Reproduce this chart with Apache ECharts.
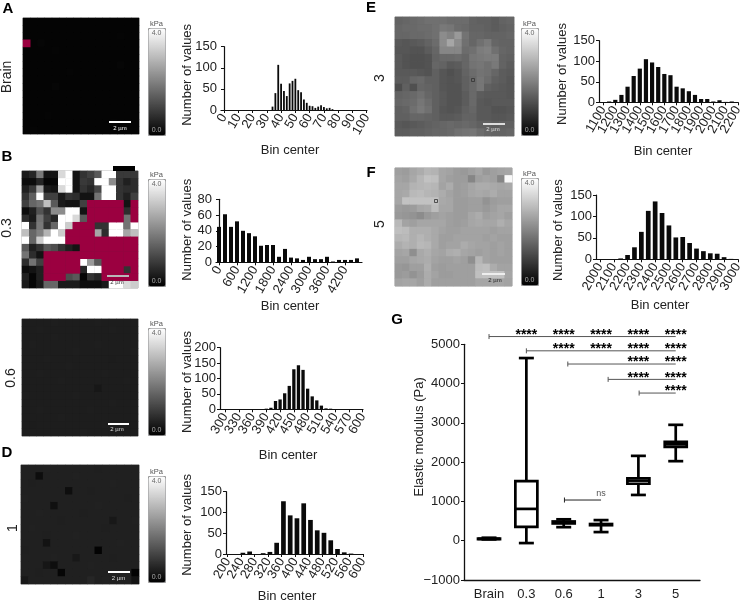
<!DOCTYPE html>
<html>
<head>
<meta charset="utf-8">
<style>html,body{margin:0;padding:0;background:#fff}#c{width:746px;height:604px}</style>
<script src="https://cdn.jsdelivr.net/npm/echarts@6/dist/echarts.min.js"></script>
</head>
<body>
<div id="c"></div>
<script>
// ---------- data: stiffness maps (kPa, 16x16); X marks a masked (crimson) cell ----------
const X = -1;
const cellIndex = [0,1,2,3,4,5,6,7,8,9,10,11,12,13,14,15];
const mapBrain = [
[.07,.07,.07,.07,.07,.06,.07,.07,.07,.07,.07,.07,.07,.07,.07,.07],
[.07,.06,.07,.07,.07,.07,.07,.07,.07,.06,.07,.07,.07,.07,.07,.07],
[.07,.07,.07,.06,.07,.07,.07,.07,.07,.07,.07,.07,.07,.08,.07,.07],
[X,.07,.09,.07,.07,.07,.07,.07,.07,.07,.07,.07,.07,.07,.07,.07],
[.07,.07,.07,.07,.08,.07,.07,.07,.07,.07,.07,.07,.07,.07,.07,.06],
[.07,.07,.07,.07,.07,.07,.07,.06,.07,.07,.07,.07,.07,.07,.07,.07],
[.06,.07,.07,.07,.07,.07,.07,.07,.07,.07,.07,.07,.07,.09,.07,.07],
[.07,.07,.07,.07,.07,.07,.08,.07,.07,.07,.07,.07,.07,.07,.07,.07],
[.07,.07,.07,.07,.07,.07,.07,.07,.07,.07,.07,.07,.07,.07,.06,.07],
[.07,.07,.07,.07,.09,.07,.07,.07,.07,.07,.07,.07,.07,.07,.07,.07],
[.07,.06,.07,.07,.07,.07,.07,.07,.07,.07,.07,.07,.07,.07,.07,.07],
[.07,.07,.07,.07,.07,.07,.07,.07,.07,.07,.06,.07,.07,.07,.07,.07],
[.07,.07,.07,.07,.07,.07,.07,.07,.07,.07,.07,.07,.07,.07,.07,.07],
[.07,.07,.07,.08,.07,.07,.07,.07,.07,.07,.07,.07,.07,.07,.07,.06],
[.07,.07,.07,.07,.07,.07,.07,.07,.07,.07,.07,.07,.09,.07,.07,.07],
[.07,.08,.07,.07,.07,.07,.07,.07,.07,.07,.07,.07,.07,.07,.07,.07]];
const map03 = [
[.4,.6,1.9,.3,.3,3.4,4,.3,.8,1,1.4,4,4,.9,.9,.9],
[.2,.2,.6,.1,.1,4,4,.3,.9,.8,4,4,2.2,.8,.5,.7],
[.5,.9,2.5,.4,.3,3.4,4,.3,.8,.6,1.1,4,4,.8,.7,.7],
[.8,1.5,4,1,1,.4,.8,.7,.3,.3,1.8,4,4,.8,.5,1],
[1,1.6,1.8,3,1.4,.4,.3,.3,1,X,X,X,X,X,.3,X],
[.2,.5,1.3,.8,2.2,2.2,4,4,.3,X,X,X,X,X,.7,X],
[.7,.4,1.8,1,.6,4,4,3.4,1.4,X,X,X,X,X,1.8,X],
[4,.8,1.9,.8,1.6,4,3.2,X,X,X,.8,.8,4,4,1.8,4],
[3,1.6,2,2.8,4,3.2,X,X,X,X,2.6,.7,4,4,2.6,3],
[4,1.6,3.2,4,4,4,X,X,X,X,X,X,X,X,X,X],
[1.4,.5,.8,1.4,1.2,.8,.5,.3,X,X,X,X,X,X,X,X],
[1.8,.7,.3,X,X,X,X,X,X,X,X,X,X,X,X,X],
[.7,1.8,1,X,X,X,X,X,4,2.4,1.4,X,X,X,X,X],
[.2,.3,.5,X,X,X,X,X,.6,4,4,X,X,X,.8,X],
[.5,.1,.5,X,X,X,1.2,1.4,.1,.8,.6,X,X,X,X,X],
[.4,.1,.4,1.6,1.6,.4,.4,.4,.2,.2,.2,.4,4,4,3.4,3.2]];
const map06 = [
[.45,.46,.45,.46,.47,.46,.45,.46,.45,.46,.47,.46,.45,.46,.45,.46],
[.46,.45,.47,.46,.45,.46,.46,.45,.46,.45,.46,.46,.47,.45,.46,.45],
[.45,.46,.46,.45,.47,.45,.46,.46,.45,.46,.46,.45,.46,.46,.45,.46],
[.46,.47,.45,.46,.46,.46,.45,.46,.46,.45,.47,.46,.45,.46,.46,.45],
[.45,.46,.46,.45,.46,.45,.46,.47,.45,.46,.45,.46,.46,.45,.46,.47],
[.46,.45,.46,.47,.45,.46,.46,.45,.46,.46,.46,.45,.44,.46,.45,.46],
[.45,.46,.45,.46,.46,.45,.47,.46,.45,.46,.45,.46,.46,.45,.46,.46],
[.46,.46,.47,.45,.46,.46,.45,.46,.46,.45,.46,.47,.45,.46,.46,.45],
[.45,.45,.46,.46,.45,.47,.46,.45,.46,.46,.45,.46,.46,.45,.47,.46],
[.46,.46,.45,.46,.46,.45,.46,.46,.45,.46,.36,.45,.46,.46,.45,.46],
[.47,.45,.46,.45,.46,.46,.45,.47,.46,.45,.46,.46,.45,.46,.46,.45],
[.45,.46,.46,.46,.45,.46,.46,.45,.46,.46,.45,.46,.47,.45,.46,.46],
[.46,.45,.47,.45,.46,.45,.46,.46,.45,.47,.46,.45,.46,.46,.45,.46],
[.45,.46,.45,.46,.46,.47,.45,.46,.46,.45,.46,.46,.45,.46,.46,.45],
[.46,.44,.46,.45,.45,.46,.46,.45,.46,.46,.45,.47,.46,.45,.46,.46],
[.45,.46,.46,.46,.45,.46,.45,.46,.47,.45,.46,.46,.45,.46,.45,.46]];
const map1 = [
[.5,.5,.5,.51,.5,.5,.5,.5,.5,.5,.49,.5,.5,.5,.5,.5],
[.5,.5,.2,.5,.5,.5,.5,.51,.5,.5,.5,.5,.5,.5,.5,.5],
[.5,.49,.5,.5,.5,.5,.5,.5,.5,.5,.5,.5,.51,.5,.5,.5],
[.5,.5,.5,.5,.5,.5,.22,.5,.5,.49,.5,.5,.5,.5,.5,.5],
[.51,.5,.5,.5,.5,.5,.5,.5,.5,.5,.5,.5,.5,.5,.49,.5],
[.5,.5,.5,.5,.25,.5,.5,.5,.5,.5,.51,.5,.5,.5,.5,.5],
[.5,.5,.51,.5,.5,.5,.5,.5,.49,.5,.5,.5,.5,.5,.5,.5],
[.5,.5,.5,.5,.5,.49,.5,.5,.5,.5,.5,.5,.38,.5,.5,.51],
[.5,.51,.5,.5,.5,.5,.5,.5,.5,.5,.5,.49,.5,.5,.5,.5],
[.5,.5,.5,.49,.5,.5,.5,.51,.5,.5,.5,.5,.5,.5,.5,.5],
[.5,.5,.5,.3,.5,.5,.5,.5,.5,.5,.5,.5,.5,.51,.5,.5],
[.49,.5,.5,.5,.5,.5,.5,.5,.5,.5,.05,.5,.5,.5,.5,.5],
[.5,.5,.5,.5,.51,.5,.5,.38,.5,.5,.5,.5,.49,.5,.5,.5],
[.5,.5,.5,.35,.22,.5,.5,.5,.5,.51,.5,.5,.5,.5,.5,.5],
[.5,.5,.49,.5,.5,.1,.5,.5,.5,.5,.5,.5,.5,.5,.5,.05],
[.38,.5,.5,.5,.5,.5,.5,.5,.5,.6,.5,.51,.5,.5,.5,.3]];
const map3 = [
[1.55,1.6,1.65,1.7,1.75,1.75,1.75,1.7,1.7,1.7,1.55,1.5,1.5,1.45,1.55,1.6],
[1.6,1.65,1.65,1.7,1.7,1.75,1.9,1.85,1.7,1.65,1.55,1.55,1.5,1.45,1.5,1.55],
[1.6,1.6,1.65,1.65,1.7,1.75,2.2,2.05,2.4,1.8,1.6,1.6,1.55,1.55,1.55,1.6],
[1.4,1.35,1.4,1.45,1.55,1.7,2.2,2.6,2.2,1.75,1.6,1.75,1.9,1.6,1.55,1.55],
[1.35,1.35,1.3,1.3,1.45,1.6,2.1,2.1,2.1,1.7,1.75,1.95,2,1.75,1.6,1.55],
[1.4,1.3,1.25,1.25,1.3,1.55,1.65,1.65,1.7,1.6,1.85,1.9,1.95,1.95,1.55,1.5],
[1.4,1.3,1.25,1.25,1.3,1.6,1.55,1.4,1.45,1.6,1.8,1.85,1.75,1.9,1.55,1.45],
[1.4,1.4,1.4,1.35,1.3,1.5,1.35,1.25,1.35,1.55,1.7,1.8,1.75,1.6,1.45,1.4],
[1.45,1.45,1.6,1.65,1.5,1.5,1.35,1.3,1.35,1.5,1.65,1.85,1.7,1.5,1.45,1.35],
[1.2,1.5,1.25,1.6,1.55,1.5,1.35,1.3,1.3,1.5,1.65,1.85,1.5,1.45,1.4,1.35],
[1.55,1.6,1.65,1.75,1.6,1.5,1.4,1.3,1.3,1.45,1.65,1.45,1.4,1.4,1.4,1.35],
[1.6,1.65,1.7,1.85,1.7,1.5,1.4,1.3,1.3,1.45,1.65,1.4,1.35,1.4,1.4,1.4],
[1.5,1.55,1.75,1.9,1.75,1.5,1.35,1.3,1.35,1.5,1.6,1.4,1.4,1.3,1.3,1.35],
[1.5,1.5,1.6,1.6,1.55,1.5,1.4,1.4,1.45,1.55,1.55,1.4,1.4,1.35,1.35,1.4],
[1.4,1.35,1.4,1.45,1.5,1.55,1.6,1.65,1.6,1.65,1.6,1.5,1.5,1.45,1.5,1.5],
[1.45,1.45,1.5,1.5,1.55,1.6,1.6,1.65,1.75,1.8,1.85,1.7,1.6,1.55,1.55,1.6]];
const map5 = [
[2.5,2.45,2.6,2.7,2.85,2.8,2.6,2.55,2.45,2.4,2.5,2.6,2.4,2.5,2.55,2.6],
[2.55,2.5,2.65,2.85,3.05,3,2.6,2.5,2.45,2.45,2.1,2.5,2.55,2.5,2.1,3.9],
[2.6,2.6,2.8,2.85,2.9,2.85,2.55,2.7,2.45,2.5,2.6,2.7,2.7,2.65,2.6,2.65],
[2.6,2.65,2.9,2.95,2.85,2.8,2.7,2.55,2.45,2.5,2.6,2.65,2.6,2.7,2.55,2.55],
[2.6,3.05,3.05,3.05,3.05,3.05,2.65,2.6,2.45,2.45,2.5,2.5,2.3,2.45,2.5,2.5],
[2.45,2.4,2.45,2.6,2.65,2.95,2.6,2.6,2.45,2.45,2.5,2.5,2.4,2.5,2.6,2.6],
[2.4,2.35,2.3,2.2,2.4,2.5,2.55,2.5,2.45,2.45,2.6,2.7,2.5,2.55,2.6,2.5],
[2.9,2.55,2.5,2.6,2.6,2.6,2.6,2.5,2.45,2.5,2.6,2.65,2.6,2.6,2.75,2.6],
[3,2.95,2.75,2.75,2.75,2.65,2.55,2.5,2.5,2.55,2.55,2.55,2.55,2.5,2.55,2.55],
[2.85,2.9,2.75,2.85,2.75,2.65,2.5,2.5,2.55,2.55,2.55,2.55,2.5,2.55,2.5,2.5],
[2.7,2.8,2.75,2.9,2.85,2.65,2.5,2.55,2.55,2.7,2.6,2.55,2.55,2.5,2.55,2.5],
[2.55,2.6,2.25,2.65,2.75,2.6,2.55,2.7,2.75,2.6,2.55,2.5,2.55,2.5,2.55,2.5],
[2.5,2.5,2.6,2.65,2.7,2.55,2.5,2.5,2.55,2.5,2.25,2.85,2.55,2.5,2.5,2.5],
[2.4,2.35,2.5,2.5,2.75,2.5,2.45,2.5,2.5,2.5,2.5,2.95,3,2.7,2.55,2.55],
[2.4,2.45,2.3,2.45,2.7,2.55,2.45,2.45,2.5,2.5,2.5,3,3.05,3.05,3.05,2.6],
[2.55,2.6,2.6,2.5,2.7,2.5,2.5,2.5,2.5,2.5,2.5,2.6,2.6,2.6,2.6,2.55]];

// ---------- data: histograms ([bin centre, count]) ----------
const histBrain = [[34,8],[36,40],[38,107],[40,62],[42,45],[44,33],[46,63],[48,69],[50,74],[52,47],[54,42],[56,25],[58,17],[60,10],[62,9],[64,5],[66,8],[68,11],[70,7],[72,4],[74,5],[76,2]];
const hist03 = [[0,45],[200,61],[400,45],[600,52],[800,40],[1000,37],[1200,33],[1400,21],[1600,22],[1800,22],[2000,7],[2200,17],[2400,6],[2600,5],[2800,3],[3000,7],[3200,4],[3400,4],[3600,7],[3800,1],[4000,3],[4200,3],[4400,3],[4600,5]];
const hist06 = [[390,2],[400,5],[410,27],[420,32],[430,52],[440,76],[450,130],[460,143],[470,128],[480,67],[490,42],[500,29],[510,12],[520,3],[530,2],[540,1]];
const hist1 = [[245,3],[265,6],[305,2],[325,5],[345,27],[365,127],[385,93],[405,86],[425,122],[445,82],[465,57],[485,51],[505,33],[525,12],[545,4],[565,1]];
const hist3 = [[1150,2],[1200,6],[1250,18],[1300,38],[1350,64],[1400,82],[1450,105],[1500,97],[1550,86],[1600,69],[1650,66],[1700,38],[1750,34],[1800,27],[1850,18],[1900,8],[1950,8],[2000,2],[2050,5],[2100,1],[2150,2]];
const hist5 = [[2150,2],[2200,10],[2250,28],[2300,64],[2350,113],[2400,135],[2450,108],[2500,79],[2550,51],[2600,52],[2650,38],[2700,25],[2750,19],[2800,14],[2850,13],[2900,5],[2950,1]];

const ticksBrain = [0,10,20,30,40,50,60,70,80,90,100];
const ticks03 = [0,600,1200,1800,2400,3000,3600,4200];
const ticks06 = [300,330,360,390,420,450,480,510,540,570,600];
const ticks1 = [200,240,280,320,360,400,440,480,520,560,600];
const ticks3 = [1100,1200,1300,1400,1500,1600,1700,1800,1900,2000,2100,2200];
const ticks5 = [2000,2100,2200,2300,2400,2500,2600,2700,2800,2900,3000];

// ---------- data: box plot ----------
const groups = ['Brain','0.3','0.6','1','3','5'];
const boxMin = [34,-60,345,220,1165,2025];
const boxQ1  = [40,350,440,395,1450,2390];
const boxMed = [48,810,460,410,1530,2455];
const boxQ3  = [54,1515,490,425,1590,2515];
const boxMax = [76,4650,545,525,2160,2950];
// significance bars: from group, to group, level (Pa), star columns
const sigFrom  = [0,1,2.11,3.19,4.02];
const sigTo    = [5,5,5,5,5];
const sigLevel = [5197,4834,4498,4107,3759];
const sigStars = [[1,2,3,4,5],[2,3,4,5],[4,5],[4,5],[5]];
const nsBar = [2.02,3,1036];

// ---------- layout ----------
const TXT = '#222';
const FONT = '"Liberation Sans", Arial, sans-serif';
const panels = [
 {map:mapBrain,bg:'#050505',m:[23,18,116,116],cb:[148,28,107],
  hist:histBrain,ticks:ticksBrain,g:[221,367,46.7,110],xr:[-2.1,100.2],ymax:150,yi:50,bw:1.8,yGap:27,ySh:3.5,xGap:34,xSh:-4},
 {map:map03,bg:'#333',m:[22,171,116,117],cb:[148,179,107],
  hist:hist03,ticks:ticks03,g:[216,362,199.3,262.3],xr:[-100,4767],ymax:80,yi:20,bw:4,yGap:22,ySh:1,xGap:37.5,xSh:1},
 {map:map06,bg:'#1d1d1d',m:[22,319,116,117],cb:[148,328,107],
  hist:hist06,ticks:ticks06,g:[220,363,347.7,409.3],xr:[289,600.7],ymax:200,yi:50,bw:3.3,yGap:26,ySh:-3.5,xGap:39.7,xSh:-3.5},
 {map:map1,bg:'#202020',m:[21,465,118,119],cb:[148,476,106],
  hist:hist1,ticks:ticks1,g:[226,363,491.7,554.3],xr:[195,600.5],ymax:150,yi:50,bw:4.7,yGap:32,ySh:-2,xGap:36,xSh:-7.5},
 {map:map3,bg:'#606060',m:[395,17,119,119],cb:[521,28,107],
  hist:hist3,ticks:ticks3,g:[599,738,40.7,102.3],xr:[1067,2201],ymax:150,yi:50,bw:4.2,yGap:30,ySh:-2.5,xGap:42.7,xSh:-5.5},
 {map:map5,bg:'#a2a2a2',m:[395,168,117,118],cb:[521,178,107],
  hist:hist5,ticks:ticks5,g:[596,738,195,259.3],xr:[1971,3001],ymax:150,yi:50,bw:4.7,yGap:31,ySh:-3,xGap:39.7,xSh:-7}
];
const G = {left:464,right:700,top:344.3,bottom:580};
const shiftPad = s => s>=0 ? [0,0,0,2*s] : [0,-2*s,0,0];

const grid=[],xAxis=[],yAxis=[],series=[],visualMap=[];
panels.forEach((p,i)=>{
  grid.push({left:p.m[0],top:p.m[1],width:p.m[2],height:p.m[3],show:true,borderColor:'#a8a8a8',borderWidth:1,backgroundColor:p.bg});
  xAxis.push({type:'category',gridIndex:i,data:cellIndex,show:false});
  yAxis.push({type:'category',gridIndex:i,data:cellIndex,show:false,inverse:true});
  const d=[];
  p.map.forEach((row,r)=>row.forEach((v,c)=>{ if(v!==X) d.push([c,r,v]); }));
  series.push({type:'heatmap',xAxisIndex:i,yAxisIndex:i,data:d,silent:true,progressive:0});
  visualMap.push({type:'continuous',seriesIndex:i,dimension:2,min:0,max:4,left:p.cb[0],top:p.cb[1],
    itemWidth:17,itemHeight:p.cb[2],padding:0,calculable:false,realtime:false,hoverLink:false,text:null,showLabel:false,
    borderColor:'#999',borderWidth:1,inRange:{color:['#000','#fff']},textStyle:{fontSize:1,color:'transparent'}});
});
panels.forEach((p,k)=>{
  const i=k+panels.length;
  grid.push({left:p.g[0],width:p.g[1]-p.g[0],top:p.g[2],height:p.g[3]-p.g[2]});
  const axLine={lineStyle:{color:'#111',width:1.2}};
  xAxis.push({type:'value',gridIndex:i,min:p.xr[0],max:p.xr[1],splitLine:{show:false},
    name:'Bin center',nameLocation:'middle',nameGap:p.xGap,nameMoveOverlap:false,
    nameTextStyle:{fontSize:13,color:TXT,padding:shiftPad(p.xSh),fontFamily:FONT},
    axisLine:Object.assign({show:true,onZero:false},axLine),
    axisTick:{show:true,length:3,customValues:p.ticks,lineStyle:{color:'#111',width:1}},
    // the axis ends carry hidden labels so that every real tick label is kept
    axisLabel:{customValues:[p.xr[0],...p.ticks,p.xr[1]],rotate:60,fontSize:13,color:TXT,margin:5,fontFamily:FONT,hideOverlap:false,
      showMinLabel:false,showMaxLabel:false,formatter:v=>String(v)}});
  yAxis.push({type:'value',gridIndex:i,min:0,max:p.ymax,interval:p.yi,splitLine:{show:false},
    name:'Number of values',nameLocation:'middle',nameGap:p.yGap,nameMoveOverlap:false,
    nameTextStyle:{fontSize:13,color:TXT,padding:shiftPad(p.ySh),fontFamily:FONT},
    axisLine:Object.assign({show:true},axLine),
    axisTick:{show:true,length:3,lineStyle:{color:'#111',width:1}},
    axisLabel:{fontSize:13,color:TXT,margin:4,fontFamily:FONT,showMinLabel:true,showMaxLabel:true}});
  series.push({type:'bar',xAxisIndex:i,yAxisIndex:i,data:p.hist,barWidth:p.bw,clip:false,silent:true,itemStyle:{color:'#0a0a0a'}});
});
const gi=panels.length*2;
grid.push({left:G.left,top:G.top,width:G.right-G.left,height:G.bottom-G.top});
const gTicks=groups.map((_,i)=>i);
xAxis.push({type:'value',gridIndex:gi,min:-0.67,max:5.65,splitLine:{show:false},
  axisLine:{show:true,onZero:false,lineStyle:{color:'#111',width:1.3}},axisTick:{show:false,customValues:gTicks},
  axisLabel:{customValues:gTicks,formatter:v=>groups[v],fontSize:13,color:TXT,margin:8,fontFamily:FONT,showMinLabel:true,showMaxLabel:true}});
yAxis.push({type:'value',gridIndex:gi,min:-1000,max:5000,interval:1000,splitLine:{show:false},
  name:'Elastic modulus (Pa)',nameLocation:'middle',nameGap:38,nameMoveOverlap:false,
  nameTextStyle:{fontSize:13,color:TXT,padding:shiftPad(25.3),fontFamily:FONT},
  axisLine:{show:true,onZero:false,lineStyle:{color:'#111',width:1.3}},axisTick:{show:true,length:3,lineStyle:{color:'#111',width:1}},
  axisLabel:{fontSize:13,color:TXT,margin:4,fontFamily:FONT,formatter:v=>String(v).replace('-','\u2212')}});

// box plot
series.push({type:'custom',xAxisIndex:gi,yAxisIndex:gi,clip:false,silent:true,
  data:groups.map((_,i)=>[i,boxMin[i],boxQ1[i],boxMed[i],boxQ3[i],boxMax[i]]),
  encode:{x:0,y:[1,2,3,4,5]},
  renderItem:(params,api)=>{
    const i=api.value(0),x=api.coord([i,0])[0];
    const y=k=>api.coord([i,api.value(k)])[1];
    const bw=22,cap=7.5,lw=2.7;
    const st={stroke:'#000',lineWidth:lw,fill:null};
    const ln=(a,b,c,d)=>({type:'line',shape:{x1:a,y1:b,x2:c,y2:d},style:st});
    return {type:'group',children:[
      ln(x,y(1),x,y(2)),ln(x,y(4),x,y(5)),
      ln(x-cap,y(1),x+cap,y(1)),ln(x-cap,y(5),x+cap,y(5)),
      {type:'rect',shape:{x:x-bw/2,y:y(4),width:bw,height:y(2)-y(4)},style:st},
      ln(x-bw/2,y(3),x+bw/2,y(3))
    ]};
  }});
// significance bars
const barRender=(color,lw)=>(params,api)=>{
  const a=api.coord([api.value(0),api.value(2)]),b=api.coord([api.value(1),api.value(2)]);
  const st={stroke:color,lineWidth:lw};
  return {type:'group',children:[
    {type:'line',shape:{x1:a[0],y1:a[1],x2:b[0],y2:b[1]},style:st},
    {type:'line',shape:{x1:a[0],y1:a[1]-2.5,x2:a[0],y2:a[1]+2.5},style:st}]};
};
series.push({type:'custom',xAxisIndex:gi,yAxisIndex:gi,clip:false,silent:true,
  data:sigLevel.map((v,i)=>[sigFrom[i],sigTo[i],v]),encode:{x:[0,1],y:2},renderItem:barRender('#555',1)});
series.push({type:'custom',xAxisIndex:gi,yAxisIndex:gi,clip:false,silent:true,
  data:[[nsBar[0],nsBar[1],nsBar[2]]],encode:{x:[0,1],y:2},renderItem:barRender('#222',1)});
// significance stars and ns label
const starData=[];
sigStars.forEach((cols,i)=>cols.forEach(c=>starData.push([c,sigLevel[i]])));
series.push({type:'custom',xAxisIndex:gi,yAxisIndex:gi,clip:false,silent:true,
  data:starData,encode:{x:0,y:1},
  renderItem:(params,api)=>{
    const p=api.coord([api.value(0),api.value(1)]);
    return {type:'text',x:p[0],y:p[1]-1.5,style:{text:'****',fontFamily:FONT,fontWeight:'bold',fontSize:14,fill:'#000',align:'center',verticalAlign:'middle'}};
  }});
series.push({type:'custom',xAxisIndex:gi,yAxisIndex:gi,clip:false,silent:true,
  data:[[nsBar[1],nsBar[2]]],encode:{x:0,y:1},
  renderItem:(params,api)=>{
    const p=api.coord([api.value(0),api.value(1)]);
    return {type:'text',x:p[0],y:p[1]-7,style:{text:'ns',fontFamily:FONT,fontSize:9,fill:'#555',align:'center',verticalAlign:'middle'}};
  }});
// masked cells, drawn over each map
panels.forEach((p,i)=>{
  const d=[];
  p.map.forEach((row,r)=>row.forEach((v,c)=>{ if(v===X) d.push([c,r,v]); }));
  if(d.length) series.push({type:'heatmap',xAxisIndex:i,yAxisIndex:i,data:d,silent:true,progressive:0,itemStyle:{color:'#9b0040'}});
});

// annotations
const gfx=[];
const text=(t,x,y,o)=>gfx.push(Object.assign({type:'text',x,y,z:100,style:Object.assign({text:t,fontFamily:FONT,fill:TXT,align:'center',verticalAlign:'middle'},o&&o.style)},o&&o.extra));
[['A',8,9],['B',7,157],['D',7,453],['E',371,8],['F',371,173],['G',397,320]].forEach(l=>text(l[0],l[1],l[2],{style:{fontWeight:'bold',fontSize:15,fill:'#000'}}));
[['Brain',7,77],['0.3',7,228],['0.6',11,378],['1',13,528],['3',380,78],['5',380,224]].forEach(l=>text(l[0],l[1],l[2],{style:{fontSize:14},extra:{rotation:Math.PI/2}}));
panels.forEach(p=>{
  const cx=p.cb[0]+8.5;
  text('kPa',cx,p.cb[1]-4.5,{style:{fontSize:7.5,fill:'#555'}});
  text('4.0',cx,p.cb[1]+5,{style:{fontSize:7,fill:'#666'}});
  text('0.0',cx,p.cb[1]+p.cb[2]-5,{style:{fontSize:7,fill:'#aaa'}});
});
// scale bars: x1, x2, y, label x, label y, bar colour, label colour
[[109,131,122,120,128,'#fff','#fff'],[107,129,276,117,282,'#b8b8b8','#333'],[108,129,424,117,429,'#fff','#ddd'],
 [108,130,572,118.6,578,'#fff','#ddd'],[483,505,124,493,129,'#ddd','#ddd'],[482,505,274,495,280,'#eee','#222']].forEach(s=>{
  gfx.push({type:'rect',z:100,shape:{x:s[0],y:s[2]-1,width:s[1]-s[0],height:2},style:{fill:s[5]}});
  text('2 \u00b5m',s[3],s[4],{style:{fontSize:6,fill:s[6]}});
});
gfx.push({type:'rect',z:100,shape:{x:113,y:166,width:22,height:5},style:{fill:'#000'}});
// small probe squares on the E and F maps
[[473,80],[436,201]].forEach(s=>gfx.push({type:'rect',z:100,shape:{x:s[0]-1.5,y:s[1]-1.5,width:3,height:3},style:{fill:'none',stroke:'#333',lineWidth:.8}}));

const chart=echarts.init(document.getElementById('c'),null,{renderer:'canvas',width:746,height:604});
chart.setOption({animation:false,backgroundColor:'#fff',textStyle:{fontFamily:FONT},tooltip:{show:false},
  grid,xAxis,yAxis,visualMap,series,graphic:{elements:gfx}});
</script>
</body>
</html>
